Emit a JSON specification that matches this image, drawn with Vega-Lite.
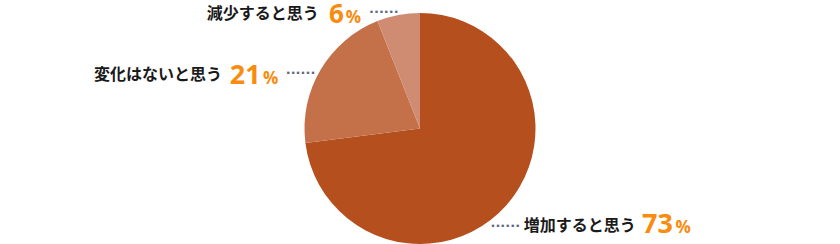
{
  "$schema": "https://vega.github.io/schema/vega-lite/v6.json",
  "width": 840,
  "height": 231,
  "autosize": "none",
  "padding": {"top": 13, "left": 0, "right": 0, "bottom": 0},
  "config": {"view": {"stroke": null}},
  "data": {"values": [
    {"cat": "増加すると思う", "value": 73, "pct": "%", "dots": "......"},
    {"cat": "変化はないと思う", "value": 21, "pct": "%", "dots": "......"},
    {"cat": "減少すると思う", "value": 6, "pct": "%", "dots": "......"}
  ]},
  "encoding": {
    "theta": {"field": "value", "type": "quantitative", "stack": true},
    "order": {"field": "value", "type": "quantitative", "sort": "descending"}
  },
  "layer": [
    {
      "mark": {"type": "arc", "outerRadius": 115.5},
      "encoding": {
        "color": {"field": "cat", "type": "nominal", "legend": null,
          "scale": {"domain": ["増加すると思う", "変化はないと思う", "減少すると思う"], "range": ["#B5501E", "#C4714A", "#D08C73"]}}
      }
    },
    {
      "mark": {"type": "text", "radius": 115, "dx": -15.8, "dy": 22.7, "align": "left", "baseline": "alphabetic", "font": "DejaVu Sans", "fontWeight": "bold", "fontSize": 13, "color": "#5F6A80"},
      "encoding": {"detail": {"field": "cat"}, "text": {"field": "dots"}, "opacity": {"condition": {"test": "datum.cat === '増加すると思う'", "value": 1}, "value": 0}}
    },
    {
      "mark": {"type": "text", "radius": 115, "dx": 17.5, "dy": 26.5, "align": "left", "baseline": "alphabetic", "font": "Noto Sans CJK JP", "fontWeight": "bold", "fontSize": 16, "color": "#1a1a1a"},
      "encoding": {"detail": {"field": "cat"}, "text": {"field": "cat"}, "opacity": {"condition": {"test": "datum.cat === '増加すると思う'", "value": 1}, "value": 0}}
    },
    {
      "mark": {"type": "text", "radius": 115, "dx": 135.7, "dy": 28.8, "align": "left", "baseline": "alphabetic", "font": "Open Sans", "fontWeight": "bold", "fontSize": 27, "color": "#F98B0E"},
      "encoding": {"detail": {"field": "cat"}, "text": {"field": "value", "type": "quantitative", "format": "d"}, "opacity": {"condition": {"test": "datum.cat === '増加すると思う'", "value": 1}, "value": 0}}
    },
    {
      "mark": {"type": "text", "radius": 115, "dx": 169.2, "dy": 28.5, "align": "left", "baseline": "alphabetic", "font": "Open Sans", "fontWeight": "bold", "fontSize": 17, "color": "#F98B0E"},
      "encoding": {"detail": {"field": "cat"}, "text": {"field": "pct"}, "opacity": {"condition": {"test": "datum.cat === '増加すると思う'", "value": 1}, "value": 0}}
    },
    {
      "mark": {"type": "text", "radius": 115, "dx": -99, "dy": 10.5, "align": "right", "baseline": "alphabetic", "font": "Noto Sans CJK JP", "fontWeight": "bold", "fontSize": 16, "color": "#1a1a1a"},
      "encoding": {"detail": {"field": "cat"}, "text": {"field": "cat"}, "opacity": {"condition": {"test": "datum.cat === '変化はないと思う'", "value": 1}, "value": 0}}
    },
    {
      "mark": {"type": "text", "radius": 115, "dx": -91.3, "dy": 14.3, "align": "left", "baseline": "alphabetic", "font": "Open Sans", "fontWeight": "bold", "fontSize": 27, "color": "#F98B0E"},
      "encoding": {"detail": {"field": "cat"}, "text": {"field": "value", "type": "quantitative", "format": "d"}, "opacity": {"condition": {"test": "datum.cat === '変化はないと思う'", "value": 1}, "value": 0}}
    },
    {
      "mark": {"type": "text", "radius": 115, "dx": -58, "dy": 14.3, "align": "left", "baseline": "alphabetic", "font": "Open Sans", "fontWeight": "bold", "fontSize": 17, "color": "#F98B0E"},
      "encoding": {"detail": {"field": "cat"}, "text": {"field": "pct"}, "opacity": {"condition": {"test": "datum.cat === '変化はないと思う'", "value": 1}, "value": 0}}
    },
    {
      "mark": {"type": "text", "radius": 115, "dx": -35.3, "dy": 4.2, "align": "left", "baseline": "alphabetic", "font": "DejaVu Sans", "fontWeight": "bold", "fontSize": 13, "color": "#5F6A80"},
      "encoding": {"detail": {"field": "cat"}, "text": {"field": "dots"}, "opacity": {"condition": {"test": "datum.cat === '変化はないと思う'", "value": 1}, "value": 0}}
    },
    {
      "mark": {"type": "text", "radius": 115, "dx": -79.6, "dy": 3.5, "align": "right", "baseline": "alphabetic", "font": "Noto Sans CJK JP", "fontWeight": "bold", "fontSize": 16, "color": "#1a1a1a"},
      "encoding": {"detail": {"field": "cat"}, "text": {"field": "cat"}, "opacity": {"condition": {"test": "datum.cat === '減少すると思う'", "value": 1}, "value": 0}}
    },
    {
      "mark": {"type": "text", "radius": 115, "dx": -69.4, "dy": 7.8, "align": "left", "baseline": "alphabetic", "font": "Open Sans", "fontWeight": "bold", "fontSize": 26, "color": "#F98B0E"},
      "encoding": {"detail": {"field": "cat"}, "text": {"field": "value", "type": "quantitative", "format": "d"}, "opacity": {"condition": {"test": "datum.cat === '減少すると思う'", "value": 1}, "value": 0}}
    },
    {
      "mark": {"type": "text", "radius": 115, "dx": -52.7, "dy": 7.2, "align": "left", "baseline": "alphabetic", "font": "Open Sans", "fontWeight": "bold", "fontSize": 17, "color": "#F98B0E"},
      "encoding": {"detail": {"field": "cat"}, "text": {"field": "pct"}, "opacity": {"condition": {"test": "datum.cat === '減少すると思う'", "value": 1}, "value": 0}}
    },
    {
      "mark": {"type": "text", "radius": 115, "dx": -29.4, "dy": -2.6, "align": "left", "baseline": "alphabetic", "font": "DejaVu Sans", "fontWeight": "bold", "fontSize": 13, "color": "#5F6A80"},
      "encoding": {"detail": {"field": "cat"}, "text": {"field": "dots"}, "opacity": {"condition": {"test": "datum.cat === '減少すると思う'", "value": 1}, "value": 0}}
    }
  ]
}
